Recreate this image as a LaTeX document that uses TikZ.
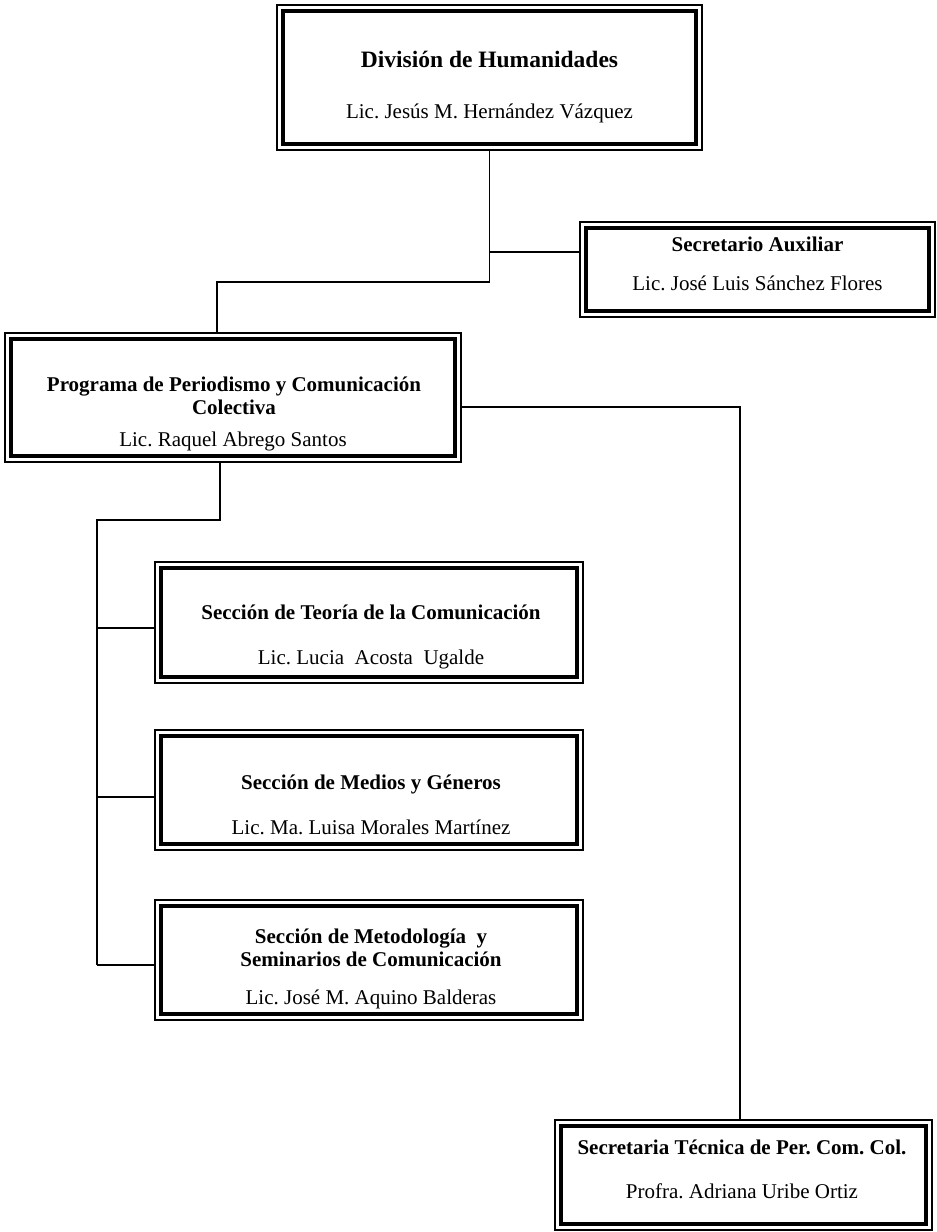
\documentclass[tikz,border=0pt]{standalone}
\usepackage{fontspec}
\setmainfont{Liberation Serif}
\frenchspacing

\tikzset{
  caja/.style={draw, line width=1.3pt, inner sep=0pt,
    path picture={\draw[line width=4pt] ([shift={(6pt,-6pt)}]path picture bounding box.north west) rectangle ([shift={(-6pt,6pt)}]path picture bounding box.south east);}},
  titulo/.style={font=\fontsize{21}{22.5}\bfseries, align=center, anchor=base},
  nombre/.style={font=\fontsize{21}{21}\selectfont, anchor=base},
  linea/.style={line width=1.3pt}
}

\begin{document}
\begin{tikzpicture}[x=1pt,y=-1pt]
	\useasboundingbox (0,0) rectangle (937,1232);

	% Cajas
	\node[caja, minimum width=425pt, minimum height=145pt] (div) at (489.5,77.5) {};
	\node[caja, minimum width=355pt, minimum height=95pt] (sec) at (757.5,269.5) {};
	\node[caja, minimum width=456pt, minimum height=129pt] (prog) at (233,397.5) {};
	\node[caja, minimum width=428pt, minimum height=121pt] (teo) at (369,622.5) {};
	\node[caja, minimum width=428pt, minimum height=120pt] (med) at (369,790) {};
	\node[caja, minimum width=428pt, minimum height=120pt] (met) at (369,960) {};
	\node[caja, minimum width=377pt, minimum height=110pt] (tec) at (743.5,1175) {};

	% Textos
	\node[titulo, font=\fontsize{23.5}{24}\bfseries] (divT) at (489.5,67) {División de Humanidades};
	\node[nombre] (divN) at (489.5,118) {Lic. Jesús M. Hernández Vázquez};
	\node[titulo] (secT) at (757.5,251) {Secretario Auxiliar};
	\node[nombre] (secN) at (757.5,290) {Lic. José Luis Sánchez Flores};
	\node[titulo, anchor=center] (progT) at (234,396) {Programa de Periodismo y Comunicación\\Colectiva};
	\node[nombre] (progN) at (233,446) {Lic. Raquel Abrego Santos};
	\node[titulo] (teoT) at (371,619) {Sección de Teoría de la Comunicación};
	\node[nombre] (teoN) at (371,664) {Lic. Lucia\ \ Acosta\ \ Ugalde};
	\node[titulo] (medT) at (371,789) {Sección de Medios y Géneros};
	\node[nombre] (medN) at (371,834) {Lic. Ma. Luisa Morales Martínez};
	\node[titulo, anchor=center] (metT) at (371,948) {Sección de Metodología\ \ y\\Seminarios de Comunicación};
	\node[nombre] (metN) at (371,1004) {Lic. José M. Aquino Balderas};
	\node[titulo] (tecT) at (742,1154) {Secretaria Técnica de Per. Com. Col.};
	\node[nombre] (tecN) at (742,1198) {Profra. Adriana Uribe Ortiz};

	% Lineas
	\coordinate (a1) at (490,252);
	\coordinate (a3) at (217,282);
	\draw[linea] (div.south) |- (a3) -- (a3 |- prog.north);
	\draw[linea] (div.south |- a1) -- (a1 -| sec.west);

	\coordinate (b1) at (220,520);
	\coordinate (b2) at (97,520);
	\coordinate (b3) at (97,965);
	\draw[linea] (b1 |- prog.south) -- (b1) -- (b2) -- (b3);
	\foreach \caja/\yy in {teo/628, med/797, met/965}
		\draw[linea] (97,\yy) -- (\caja.west |- 97,\yy);

	\coordinate (c1) at (740,407);
	\draw[linea] (c1 -| prog.east) -- (c1) -- (c1 |- tec.north);
\end{tikzpicture}
\end{document}
